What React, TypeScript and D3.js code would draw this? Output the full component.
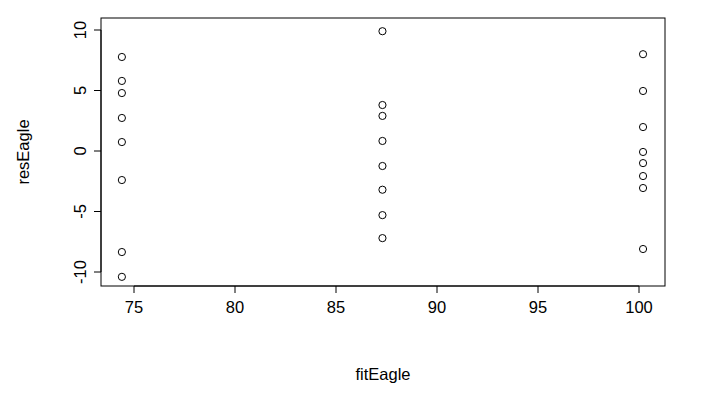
import React from "react";
import * as d3 from "d3";

const fitValues = [74.4, 87.3, 100.2];
const residuals = [
  [7.77, 5.79, 4.79, 2.73, 0.74, -2.4, -8.35, -10.4],
  [9.9, 3.8, 2.9, 0.83, -1.24, -3.2, -5.3, -7.2],
  [8.0, 4.96, 1.98, -0.08, -1.0, -2.07, -3.06, -8.1],
];
const xTicks = [75, 80, 85, 90, 95, 100];
const yTicks = [-10, -5, 0, 5, 10];

export default function App() {
  const W = 722, H = 407;
  const box = { l: 101, r: 665, t: 18, b: 286 };
  const x = d3.scaleLinear().domain([75, 100]).range([134, 639]);
  const y = d3.scaleLinear().domain([-10, 10]).range([272, 30]);
  const font = "Liberation Sans, Arial, sans-serif";
  const pts = fitValues.flatMap((f, i) => residuals[i].map((r) => [f, r]));
  return (
    <svg width={W} height={H} style={{ position: "absolute", left: 0, top: 0 }} fontFamily={font}>
      <rect x={0} y={0} width={W} height={H} fill="#fff" />
      <rect x={box.l} y={box.t} width={box.r - box.l} height={box.b - box.t} fill="none" stroke="#000" />
      {xTicks.map((t) => (
        <g key={t}>
          <line x1={x(t)} x2={x(t)} y1={box.b} y2={box.b + 7} stroke="#000" />
          <text x={x(t)} y={box.b + 27} fontSize={16.5} textAnchor="middle">{t}</text>
        </g>
      ))}
      <line x1={x(75)} x2={x(100)} y1={box.b} y2={box.b} stroke="#000" />
      {yTicks.map((t) => (
        <g key={t}>
          <line x1={box.l - 7} x2={box.l} y1={y(t)} y2={y(t)} stroke="#000" />
          <text transform={`translate(${box.l - 15},${y(t)}) rotate(-90)`} fontSize={16.5} textAnchor="middle">{t}</text>
        </g>
      ))}
      <line x1={box.l} x2={box.l} y1={y(-10)} y2={y(10)} stroke="#000" />
      {pts.map(([f, r], i) => (
        <circle key={i} cx={x(f)} cy={y(r)} r={3.6} fill="none" stroke="#000" strokeWidth={1} />
      ))}
      <text x={(box.l + box.r) / 2} y={380} fontSize={16.5} textAnchor="middle">fitEagle</text>
      <text transform={`translate(29,${(box.t + box.b) / 2}) rotate(-90)`} fontSize={16.5} textAnchor="middle">resEagle</text>
    </svg>
  );
}
